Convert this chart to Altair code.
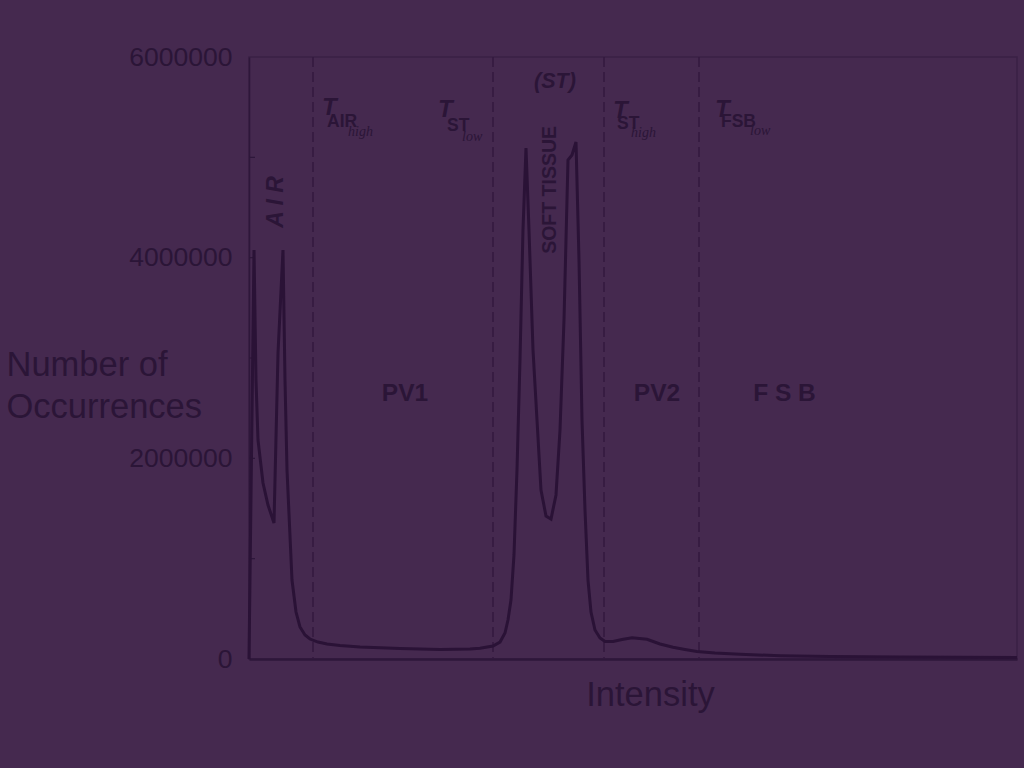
import altair as alt
import pandas as pd

# ---- data ----
intensity = [0, 1.67, 2.33, 3, 4.67, 6.33, 8.33, 9.67, 11.33, 12, 12.67, 14.33, 15.67, 17,
             18.67, 20.33, 23, 26, 30.33, 37, 50.33, 63.67, 73.67, 77, 81.33, 83.67, 85.33,
             86.33, 87.33, 88.33, 89.33, 90.33, 91.33, 92.33, 93.33, 94.67, 96, 97.33, 99,
             100.67, 102.33, 103.67, 105, 106.33, 107.67, 109, 110, 111, 112, 113, 114,
             115.33, 117, 118.67, 121.33, 124.33, 127.67, 132.67, 137, 141.33, 145.33,
             149.33, 155.33, 163.67, 177, 193.67, 217, 237, 256]
occurrences = [0, 4076000, 2781000, 2183000, 1754000, 1535000, 1356000, 3050000, 4076000,
               2781000, 1884000, 787000, 468000, 319000, 239000, 199000, 169000, 150000,
               135000, 120000, 105000, 95000, 100000, 107000, 130000, 169000, 259000, 389000,
               588000, 1037000, 1884000, 2980000, 4276000, 5093000, 4276000, 3080000,
               2382000, 1684000, 1425000, 1395000, 1635000, 2282000, 3379000, 4974000,
               5023000, 5153000, 3977000, 2382000, 1485000, 787000, 468000, 289000, 209000,
               174000, 174000, 194000, 212000, 196000, 150000, 117000, 95000, 75000, 60000,
               47000, 33000, 25000, 20000, 17000, 15000]

thresholds = [21.33, 81.33, 118.33, 150]
minor_ticks = [1000000, 2000000, 3000000, 4000000, 5000000]
y_tick_values = [0, 2000000, 4000000, 6000000]

# threshold labels: T, subscript, sub-subscript
t_x = [24.33, 63, 121.33, 155.33]
t_y = [5417000, 5402000, 5392000, 5402000]
sub_text = ["AIR", "ST", "ST", "FSB"]
sub_x = [26, 66, 122.67, 157.33]
sub_y = [5302000, 5263000, 5283000, 5302000]
subsub_text = ["high", "low", "high", "low"]
subsub_x = [33, 71, 127.33, 167]
subsub_y = [5213000, 5163000, 5203000, 5218000]

region_text = ["PV1", "PV2", "F S B"]
region_x = [52, 136, 178.5]
region_y = [2641000, 2641000, 2641000]

BG = "#45294f"
INK = "#2b1537"
LINE = "#2a1236"
FONT = "Liberation Sans"

curve = pd.DataFrame({"x": intensity, "y": occurrences})
xs = alt.Scale(domain=[0, 256], nice=False, zero=False)
ys = alt.Scale(domain=[0, 6000000], nice=False)

line = alt.Chart(curve).mark_line(color=LINE, strokeWidth=3, strokeJoin="miter").encode(
    x=alt.X("x:Q", scale=xs,
            axis=alt.Axis(title="Intensity", labels=False, ticks=False, grid=False,
                          domainColor="#2e173a", domainWidth=2.5,
                          titleFont=FONT, titleFontSize=34.5, titleFontWeight="normal",
                          titleColor=INK, titleAlign="center", titleAnchor="start",
                          titleX=401, titleY=46, titleBaseline="alphabetic")),
    y=alt.Y("y:Q", scale=ys,
            axis=alt.Axis(title=["Number of", "Occurrences"], values=y_tick_values,
                          format="d", ticks=False, grid=False,
                          domainColor="#2e173a", domainWidth=1.5,
                          labelFont=FONT, labelFontSize=26.5, labelColor=INK,
                          labelPadding=17,
                          titleFont=FONT, titleFontSize=34.5, titleFontWeight="normal",
                          titleColor=INK, titleAngle=0, titleAlign="left",
                          titleX=-243, titleY=318, titleBaseline="alphabetic",
                          titleLineHeight=42)),
)

rules = alt.Chart(pd.DataFrame({"x": thresholds})).mark_rule(
    color="#33193f", strokeWidth=1.5, strokeDash=[10, 5]
).encode(x=alt.X("x:Q", scale=xs), y=alt.value(0), y2=alt.value(602))

ticks = alt.Chart(pd.DataFrame({"y": minor_ticks})).mark_rule(
    color="#2e173a", strokeWidth=1.2
).encode(y=alt.Y("y:Q", scale=ys), x=alt.value(0), x2=alt.value(6))

t_df = pd.DataFrame({"x": t_x, "y": t_y, "t": ["T"] * 4})
t_layer = alt.Chart(t_df).mark_text(
    font=FONT, fontSize=24, fontWeight="bold", fontStyle="italic", color=INK,
    align="left", baseline="alphabetic"
).encode(x=alt.X("x:Q", scale=xs), y=alt.Y("y:Q", scale=ys), text="t:N")

sub_df = pd.DataFrame({"x": sub_x, "y": sub_y, "t": sub_text})
sub_layer = alt.Chart(sub_df).mark_text(
    font=FONT, fontSize=17.5, fontWeight="bold", color=INK,
    align="left", baseline="alphabetic"
).encode(x=alt.X("x:Q", scale=xs), y=alt.Y("y:Q", scale=ys), text="t:N")

subsub_df = pd.DataFrame({"x": subsub_x, "y": subsub_y, "t": subsub_text})
subsub_layer = alt.Chart(subsub_df).mark_text(
    font="Liberation Serif", fontSize=14, fontStyle="italic", color=INK,
    align="left", baseline="alphabetic"
).encode(x=alt.X("x:Q", scale=xs), y=alt.Y("y:Q", scale=ys), text="t:N")

region_df = pd.DataFrame({"x": region_x, "y": region_y, "t": region_text})
region_layer = alt.Chart(region_df).mark_text(
    font=FONT, fontSize=24.5, fontWeight="bold", color=INK,
    align="center", baseline="middle"
).encode(x=alt.X("x:Q", scale=xs), y=alt.Y("y:Q", scale=ys), text="t:N")

air_layer = alt.Chart(pd.DataFrame({"x": [9], "y": [4555000], "t": ["A I R"]})).mark_text(
    font=FONT, fontSize=23, fontWeight="bold", fontStyle="italic", color=INK,
    align="center", baseline="middle", angle=270
).encode(x=alt.X("x:Q", scale=xs), y=alt.Y("y:Q", scale=ys), text="t:N")

soft_layer = alt.Chart(pd.DataFrame({"x": [100.33], "y": [4675000], "t": ["SOFT TISSUE"]})).mark_text(
    font=FONT, fontSize=19.5, fontWeight="bold", color=INK,
    align="center", baseline="middle", angle=270
).encode(x=alt.X("x:Q", scale=xs), y=alt.Y("y:Q", scale=ys), text="t:N")

st_layer = alt.Chart(pd.DataFrame({"x": [102], "y": [5751000], "t": ["(ST)"]})).mark_text(
    font=FONT, fontSize=21.5, fontWeight="bold", fontStyle="italic", color=INK,
    align="center", baseline="middle"
).encode(x=alt.X("x:Q", scale=xs), y=alt.Y("y:Q", scale=ys), text="t:N")

chart = alt.layer(
    rules, ticks, line, t_layer, sub_layer, subsub_layer, region_layer,
    air_layer, soft_layer, st_layer
).properties(
    width=768, height=602,
    autosize=alt.AutoSizeParams(type="none"),
    padding={"left": 249, "top": 57, "right": 7, "bottom": 109},
    background=BG,
).configure_view(
    stroke="#3a2146", strokeWidth=1.5
)

chart.save("out.html", embed_options={"renderer": "svg", "actions": False})
